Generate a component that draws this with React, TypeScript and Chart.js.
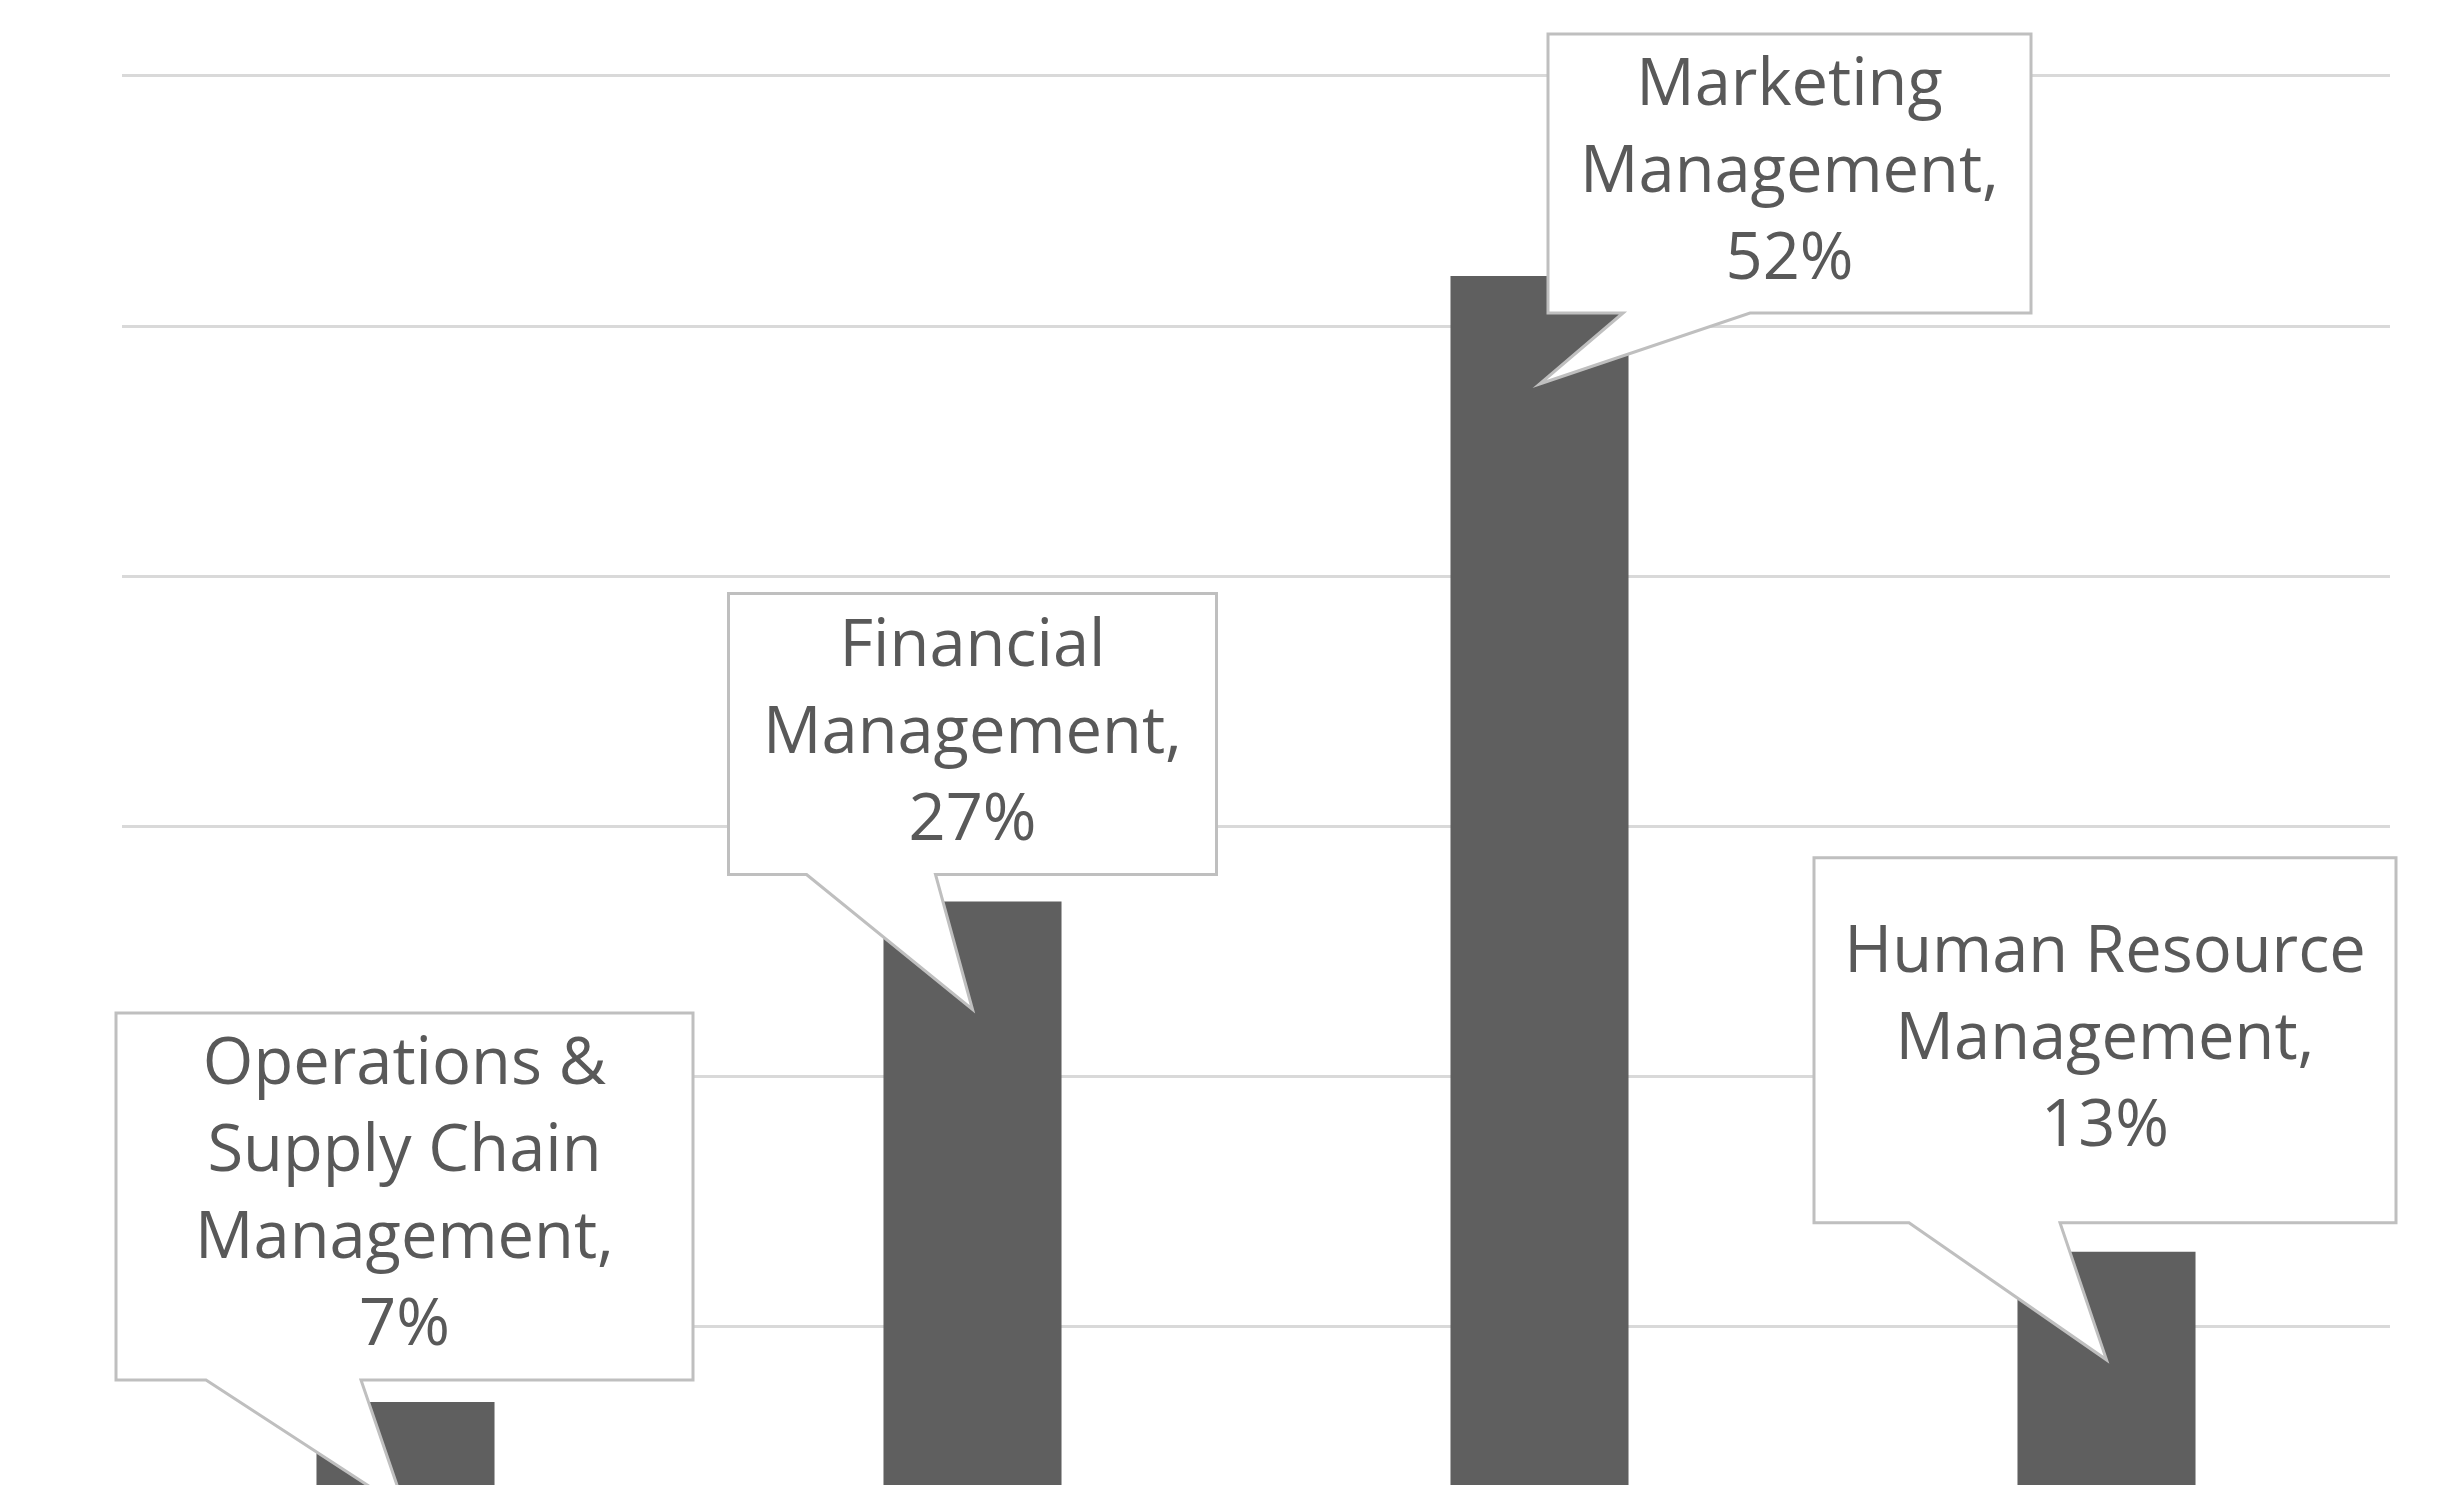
import React, { useEffect, useRef } from 'react';
import { Chart, registerables } from 'chart.js';

Chart.register(...registerables);

// ---- data ----
const categories: string[][] = [
  ['Operations &', 'Supply Chain', 'Management'],
  ['Financial', 'Management'],
  ['Marketing', 'Management'],
  ['Human Resource', 'Management'],
];
const shares: number[] = [7, 27, 52, 13];
const yTicks: number[] = [10, 20, 30, 40, 50, 60];

// ---- callout layout (relative to each bar's top-centre pixel) ----
const calloutLayout = [
  { dx: -1, dy: -22, w: 577, h: 367, a: 90, b: 245 },
  { dx: 0, dy: -27, w: 488, h: 281, a: 78, b: 207 },
  { dx: 250, dy: 37, w: 483, h: 279, a: 75, b: 202 },
  { dx: -1.5, dy: -29, w: 582, h: 365, a: 95, b: 246 },
];
const TIP_DROP = 108;
const FONT = '65px "Open Sans", "Noto Sans", sans-serif';
const LINE_H = 87;

const calloutPlugin = {
  id: 'callouts',
  afterDatasetsDraw(chart: any) {
    const ctx = chart.ctx as CanvasRenderingContext2D;
    const meta = chart.getDatasetMeta(0);
    meta.data.forEach((bar: any, i: number) => {
      const L = calloutLayout[i];
      const cx = bar.x + L.dx;
      const bottom = bar.y + L.dy;
      const left = cx - L.w / 2;
      const right = cx + L.w / 2;
      const top = bottom - L.h;
      const tipX = bar.x;
      const tipY = bar.y + TIP_DROP;
      ctx.save();
      ctx.beginPath();
      ctx.moveTo(left + L.a, bottom);
      ctx.lineTo(tipX, tipY);
      ctx.lineTo(left + L.b, bottom);
      ctx.lineTo(right, bottom);
      ctx.lineTo(right, top);
      ctx.lineTo(left, top);
      ctx.lineTo(left, bottom);
      ctx.closePath();
      ctx.fillStyle = '#ffffff';
      ctx.fill();
      ctx.lineWidth = 3;
      ctx.lineJoin = 'miter';
      ctx.strokeStyle = '#bfbfbf';
      ctx.stroke();

      const cat = categories[i];
      const lines = [
        ...cat.slice(0, -1),
        cat[cat.length - 1] + ',',
        shares[i] + '%',
      ];
      ctx.font = FONT;
      ctx.fillStyle = '#595959';
      ctx.textAlign = 'center';
      ctx.textBaseline = 'middle';
      const midY = (top + bottom) / 2;
      const startY = midY - ((lines.length - 1) * LINE_H) / 2;
      lines.forEach((ln, k) => {
        ctx.fillText(ln, cx, startY + k * LINE_H);
      });
      ctx.restore();
    });
  },
};

export default function App() {
  const ref = useRef<HTMLCanvasElement | null>(null);
  useEffect(() => {
    document.body.style.margin = '0';
    document.body.style.overflow = 'hidden';
    if (!ref.current) return;
    const chart = new Chart(ref.current, {
      type: 'bar',
      data: {
        labels: categories,
        datasets: [
          {
            data: shares,
            backgroundColor: '#5f5f5f',
            borderWidth: 0,
            barPercentage: 0.314,
            categoryPercentage: 1,
          },
        ],
      },
      options: {
        responsive: false,
        maintainAspectRatio: false,
        animation: false,
        devicePixelRatio: 1,
        layout: { padding: { left: 122, right: 64, top: 0, bottom: 0 } },
        plugins: {
          legend: { display: false },
          tooltip: { enabled: false },
          title: { display: false },
        },
        scales: {
          x: { display: false, offset: true },
          y: {
            display: true,
            min: 3.68,
            max: 63.03,
            afterBuildTicks: (scale: any) => {
              scale.ticks = yTicks.map((v) => ({ value: v }));
            },
            ticks: { display: false },
            border: { display: false },
            grid: {
              color: '#d9d9d9',
              lineWidth: 3,
              drawTicks: false,
              tickLength: 0,
            },
          },
        },
      },
      plugins: [calloutPlugin],
    });
    return () => chart.destroy();
  }, []);
  return (
    <canvas
      ref={ref}
      width={2454}
      height={1485}
      style={{ display: 'block', width: 2454, height: 1485 }}
    />
  );
}
